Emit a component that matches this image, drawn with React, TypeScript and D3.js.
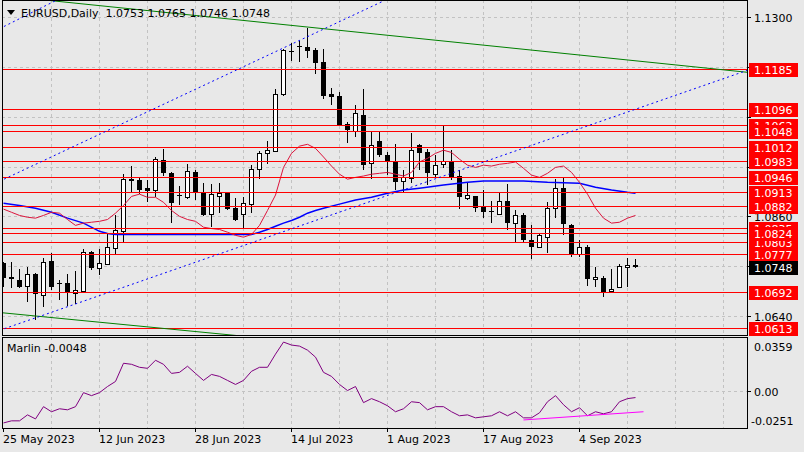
import * as d3 from "d3";
import { useEffect } from "react";

const width = 804;
const height = 452;

// daily bars, 25 May 2023 .. 13 Sep 2023 (weekdays)
const opens = [
  1.0756, 1.0723, 1.0719, 1.0706, 1.0732, 1.0686, 1.0761, 1.0712, 1.0712, 1.0690,
  1.0695, 1.0781, 1.0745, 1.0754, 1.0789, 1.0827, 1.0942, 1.0940, 1.0922, 1.0916,
  1.0984, 1.0955, 1.0907, 1.0902, 1.0957, 1.0913, 1.0864, 1.0904, 1.0911, 1.0878,
  1.0864, 1.0887, 1.0964, 1.0999, 1.1004, 1.1128, 1.1225, 1.1236, 1.1234, 1.1227,
  1.1200, 1.1130, 1.1125, 1.1063, 1.1048, 1.1083, 1.0977, 1.1026, 1.0995, 1.0980,
  1.0938, 1.0944, 1.1017, 1.1001, 1.0953, 1.0975, 1.0980, 1.0949, 1.0900, 1.0904,
  1.0880, 1.0871, 1.0864, 1.0893, 1.0845, 1.0864, 1.0807, 1.0792, 1.0814, 1.0878,
  1.0922, 1.0840, 1.0776, 1.0792, 1.0721, 1.0725, 1.0695, 1.0703, 1.0748, 1.0753,
];
const highs = [
  1.0759, 1.0759, 1.0743, 1.0748, 1.0734, 1.0767, 1.0779, 1.0719, 1.0732, 1.0739,
  1.0789, 1.0783, 1.0789, 1.0820, 1.0862, 1.0953, 1.0971, 1.0946, 1.0940, 1.0991,
  1.1008, 1.0957, 1.0927, 1.0975, 1.0962, 1.0933, 1.0931, 1.0933, 1.0913, 1.0900,
  1.0902, 1.0973, 1.1004, 1.1026, 1.1141, 1.1229, 1.1243, 1.1247, 1.1276, 1.1232,
  1.1229, 1.1143, 1.1134, 1.1068, 1.1106, 1.1141, 1.1046, 1.1046, 1.1001, 1.1019,
  1.0962, 1.1043, 1.1019, 1.1008, 1.0995, 1.1061, 1.1006, 1.0962, 1.0933, 1.0906,
  1.0918, 1.0893, 1.0913, 1.0931, 1.0873, 1.0867, 1.0840, 1.0820, 1.0891, 1.0942,
  1.0944, 1.0842, 1.0807, 1.0796, 1.0748, 1.0728, 1.0743, 1.0754, 1.0767, 1.0765,
];
const lows = [
  1.0703, 1.0701, 1.0701, 1.0670, 1.0632, 1.0659, 1.0697, 1.0675, 1.0663, 1.0666,
  1.0693, 1.0741, 1.0730, 1.0752, 1.0774, 1.0803, 1.0913, 1.0909, 1.0891, 1.0902,
  1.0949, 1.0845, 1.0884, 1.0899, 1.0896, 1.0860, 1.0836, 1.0867, 1.0874, 1.0849,
  1.0833, 1.0867, 1.0942, 1.0975, 1.1001, 1.1125, 1.1203, 1.1200, 1.1209, 1.1174,
  1.1119, 1.1106, 1.1059, 1.1021, 1.1035, 1.0962, 1.0942, 1.0991, 1.0951, 1.0918,
  1.0911, 1.0933, 1.0962, 1.0929, 1.0944, 1.0966, 1.0940, 1.0876, 1.0896, 1.0869,
  1.0856, 1.0845, 1.0862, 1.0829, 1.0803, 1.0803, 1.0765, 1.0790, 1.0779, 1.0856,
  1.0818, 1.0770, 1.0770, 1.0706, 1.0703, 1.0683, 1.0693, 1.0701, 1.0703, 1.0746,
];
const closes = [
  1.0723, 1.0724, 1.0703, 1.0732, 1.0688, 1.0759, 1.0703, 1.0711, 1.0690, 1.0697,
  1.0781, 1.0745, 1.0756, 1.0792, 1.0829, 1.0942, 1.0938, 1.0918, 1.0916, 1.0986,
  1.0955, 1.0889, 1.0904, 1.0960, 1.0911, 1.0862, 1.0909, 1.0911, 1.0876, 1.0851,
  1.0889, 1.0964, 1.0999, 1.1006, 1.1130, 1.1225, 1.1223, 1.1234, 1.1225, 1.1198,
  1.1125, 1.1123, 1.1061, 1.1050, 1.1086, 1.0973, 1.1017, 1.0995, 1.0982, 1.0935,
  1.0946, 1.1006, 1.0999, 1.0955, 1.0973, 1.0980, 1.0944, 1.0902, 1.0907, 1.0878,
  1.0869, 1.0869, 1.0893, 1.0845, 1.0862, 1.0807, 1.0792, 1.0818, 1.0878, 1.0922,
  1.0842, 1.0774, 1.0792, 1.0721, 1.0725, 1.0692, 1.0699, 1.0750, 1.0752, 1.0748,
];

// short moving average (red), one value per bar
const fastMA = [
  1.0876, 1.0869, 1.0862, 1.0858, 1.0856, 1.0862, 1.0869, 1.0867, 1.0853, 1.0840,
  1.0845, 1.0847, 1.0849, 1.0853, 1.0867, 1.0884, 1.0904, 1.0909, 1.0902, 1.0902,
  1.0891, 1.0873, 1.0860, 1.0853, 1.0849, 1.0836, 1.0833, 1.0831, 1.0825, 1.0818,
  1.0814, 1.0820, 1.0840, 1.0873, 1.0907, 1.0968, 1.0999, 1.1015, 1.1019, 1.1010,
  1.0991, 1.0971, 1.0953, 1.0942, 1.0946, 1.0949, 1.0953, 1.0955, 1.0957, 1.0953,
  1.0949, 1.0957, 1.0980, 1.0988, 1.0999, 1.1006, 1.1001, 1.0986, 1.0973, 1.0968,
  1.0973, 1.0971, 1.0975, 1.0977, 1.0980, 1.0966, 1.0951, 1.0946, 1.0955, 1.0968,
  1.0971, 1.0957, 1.0935, 1.0909, 1.0878, 1.0856, 1.0845, 1.0847, 1.0856, 1.0862,
];

// long moving average (blue), read at these bars
const slowIdx = [0, 2, 4, 6, 8, 10, 12, 13, 14, 31, 32, 33, 34, 35, 36, 37, 38, 39, 40, 42, 44, 46, 48, 50, 52, 55, 58, 60, 65, 68, 72, 74, 76, 78, 79];
const slowMA = [
  1.0889, 1.0884, 1.0878, 1.0869, 1.0856, 1.0845, 1.0827, 1.0822, 1.0820, 1.0820,
  1.0825, 1.0831, 1.0838, 1.0845, 1.0851, 1.0858, 1.0867, 1.0873, 1.0878, 1.0887,
  1.0896, 1.0902, 1.0911, 1.0918, 1.0922, 1.0929, 1.0935, 1.0938, 1.0938, 1.0935,
  1.0933, 1.0924, 1.0918, 1.0913, 1.0911,
];

// Marlin oscillator
const marlin = [
  -0.0217, -0.0203, -0.0203, -0.0163, -0.0190, -0.0108, -0.0142, -0.0122, -0.0129, -0.0108,
  -0.0014, -0.0034, -0.0014, 0.0027, 0.0061, 0.0183, 0.0176, 0.0156, 0.0149, 0.0203,
  0.0176, 0.0115, 0.0122, 0.0163, 0.0115, 0.0068, 0.0108, 0.0095, 0.0068, 0.0041,
  0.0068, 0.0129, 0.0156, 0.0156, 0.0244, 0.0325, 0.0305, 0.0298, 0.0271, 0.0224,
  0.0122, 0.0095, 0.0041, 0.0000, 0.0027, -0.0081, -0.0054, -0.0075, -0.0102, -0.0142,
  -0.0122, -0.0075, -0.0081, -0.0129, -0.0108, -0.0108, -0.0142, -0.0169, -0.0163, -0.0183,
  -0.0176, -0.0169, -0.0142, -0.0169, -0.0142, -0.0183, -0.0183, -0.0149, -0.0075, -0.0034,
  -0.0095, -0.0142, -0.0115, -0.0169, -0.0142, -0.0156, -0.0142, -0.0075, -0.0054, -0.0047,
];
const marlinTrend = [
  { i: 65, v: -0.0197 },
  { i: 80, v: -0.0142 },
];

const levels = [1.1185, 1.1096, 1.1062, 1.1048, 1.1012, 1.0983, 1.0946, 1.0913, 1.0882, 1.0835, 1.0803, 1.0824, 1.0777, 1.0692, 1.0613];
const priceTicks = [1.13, 1.119, 1.108, 1.097, 1.086, 1.075, 1.064];
const lastPrice = 1.0748;

const dateLabels = ["25 May 2023", "12 Jun 2023", "28 Jun 2023", "14 Jul 2023", "1 Aug 2023", "17 Aug 2023", "4 Sep 2023"];
const dateIdx = [0, 12, 24, 36, 48, 60, 72];

// trend lines: two anchors each (bar index, price)
const trendLines = [
  { a: [0, 1.1347], b: [93, 1.1178], color: "#008000", dash: "" },
  { a: [0, 1.0647], b: [28, 1.0599], color: "#008000", dash: "" },
  { a: [0, 1.0941], b: [48, 1.1339], color: "#0000ff", dash: "2,3" },
  { a: [0, 1.1278], b: [6, 1.1331], color: "#0000ff", dash: "2,3" },
  { a: [0, 1.0611], b: [93, 1.1182], color: "#0000ff", dash: "2,3" },
];

const font = "DejaVu Sans";

export default function App() {
  useEffect(() => {
    document.body.style.margin = "0";
  }, []);

  const left = 2;
  const right = 747;
  const mainTop = 0;
  const mainBottom = 335;
  const subTop = 337;
  const subBottom = 428;

  const x = d3.scaleLinear([0, 90], [3, 723]);
  const y = d3.scaleLinear([1.05981, 1.13331], [mainBottom, 2]);
  const ym = d3.scaleLinear([-0.0251, 0.0359], [subBottom, subTop]);

  const gridIdx = d3.range(6, 91, 6);

  // grid labels that would sit under a level label are not drawn (as the terminal does)
  const labelled = [...levels, lastPrice];
  const freeTicks = priceTicks.filter(p => labelled.every(q => Math.abs(y(p) - y(q)) > 8));

  const fastLine = d3.line<number>((d, i) => x(i) + 0.5, d => y(d));
  const slowLine = d3.line<number>((d, i) => x(slowIdx[i]) + 0.5, d => y(d));
  const marlinLine = d3.line<number>((d, i) => x(i) + 0.5, d => ym(d));

  return (
    <svg width={width} height={height} style={{ display: "block", position: "absolute", left: 0, top: 0 }} fontFamily={font} fontSize={11}>
      <defs>
        <clipPath id="main">
          <rect x={left} y={mainTop} width={right - left} height={mainBottom - mainTop} />
        </clipPath>
        <clipPath id="sub">
          <rect x={left} y={subTop} width={right - left} height={subBottom - subTop} />
        </clipPath>
      </defs>
      <rect width={width} height={height} fill="#e8e8e8" />

      {/* grid */}
      <g stroke="#c2c2c2" strokeDasharray="3,3" shapeRendering="crispEdges">
        {priceTicks.map(p => (
          <line key={p} x1={left} x2={right} y1={Math.round(y(p)) + 0.5} y2={Math.round(y(p)) + 0.5} />
        ))}
        {gridIdx.map(i => (
          <g key={i}>
            <line x1={x(i) + 0.5} x2={x(i) + 0.5} y1={mainTop} y2={mainBottom} />
            <line x1={x(i) + 0.5} x2={x(i) + 0.5} y1={subTop} y2={subBottom} />
          </g>
        ))}
        <line x1={left} x2={right} y1={Math.round(ym(0)) + 0.5} y2={Math.round(ym(0)) + 0.5} />
      </g>

      <g clipPath="url(#main)">
        {/* candles */}
        {opens.map((o, i) => {
          const c = closes[i];
          const cx = x(i);
          const top = y(Math.max(o, c));
          const bot = y(Math.min(o, c));
          const bull = c >= o;
          return (
            <g key={i} shapeRendering="crispEdges">
              <line x1={cx + 0.5} x2={cx + 0.5} y1={y(highs[i])} y2={y(lows[i])} stroke="#000" />
              {bull ? (
                <rect x={cx - 1.5} y={top} width={4} height={Math.max(bot - top, 1)} fill="#fff" stroke="#000" />
              ) : (
                <rect x={cx - 2} y={top} width={5} height={Math.max(bot - top, 1)} fill="#000" />
              )}
            </g>
          );
        })}

        <path d={slowLine(slowMA) ?? ""} fill="none" stroke="#0000ff" strokeWidth={1.5} />
        <path d={fastLine(fastMA) ?? ""} fill="none" stroke="#dc143c" strokeWidth={1} />

        {/* horizontal levels */}
        <g stroke="#ff0000" shapeRendering="crispEdges">
          {levels.map(p => (
            <line key={p} x1={left} x2={right} y1={Math.round(y(p)) + 0.5} y2={Math.round(y(p)) + 0.5} />
          ))}
        </g>

        {trendLines.map((t, k) => {
          const slope = (t.b[1] - t.a[1]) / (t.b[0] - t.a[0]);
          const i0 = -1;
          const i1 = 95;
          return (
            <line
              key={k}
              x1={x(i0)}
              y1={y(t.a[1] + slope * (i0 - t.a[0]))}
              x2={x(i1)}
              y2={y(t.a[1] + slope * (i1 - t.a[0]))}
              stroke={t.color}
              strokeWidth={1}
              strokeDasharray={t.dash || undefined}
            />
          );
        })}
      </g>

      {/* indicator */}
      <g clipPath="url(#sub)">
        <path d={marlinLine(marlin) ?? ""} fill="none" stroke="#800080" strokeWidth={1} />
        <line
          x1={x(marlinTrend[0].i) + 0.5}
          y1={ym(marlinTrend[0].v)}
          x2={x(marlinTrend[1].i) + 0.5}
          y2={ym(marlinTrend[1].v)}
          stroke="#ff00ff"
          strokeWidth={1}
        />
      </g>

      {/* frames */}
      <g fill="none" stroke="#000" shapeRendering="crispEdges">
        <rect x={left + 0.5} y={mainTop + 0.5} width={right - left} height={mainBottom - mainTop} />
        <rect x={left + 0.5} y={subTop + 0.5} width={right - left} height={subBottom - subTop} />
      </g>

      {/* header */}
      <path d="M7,10 L15,10 L11,15 Z" fill="#000" />
      <text x={21} y={17} style={{ whiteSpace: "pre" }}>EURUSD,Daily  1.0753 1.0765 1.0746 1.0748</text>
      <text x={7} y={352}>Marlin -0.0048</text>

      {/* price axis */}
      <g shapeRendering="crispEdges">
        {priceTicks.map(p => (
          <line key={p} x1={right + 1} x2={right + 4} y1={Math.round(y(p)) + 0.5} y2={Math.round(y(p)) + 0.5} stroke="#000" />
        ))}
      </g>
      {freeTicks.map(p => (
        <text key={p} x={754} y={y(p) + 5} fill="#000">{p.toFixed(4)}</text>
      ))}
      {levels.map(p => (
        <g key={p}>
          <rect x={749} y={Math.round(y(p)) - 6} width={49} height={14} fill="#ff0000" />
          <text x={754} y={y(p) + 5} fill="#fff">{p.toFixed(4)}</text>
        </g>
      ))}
      <rect x={749} y={Math.round(y(lastPrice)) - 6} width={49} height={14} fill="#000" />
      <text x={754} y={y(lastPrice) + 5} fill="#fff">{lastPrice.toFixed(4)}</text>

      {/* indicator axis */}
      <text x={754} y={ym(0.0359) + 14}>0.0359</text>
      <text x={754} y={ym(0) + 5}>0.00</text>
      <text x={751} y={ym(-0.0251) - 3}>-0.0251</text>
      <line x1={right + 1} x2={right + 4} y1={Math.round(ym(0)) + 0.5} y2={Math.round(ym(0)) + 0.5} stroke="#000" />

      {/* date axis */}
      {dateIdx.map((i, k) => (
        <g key={i}>
          <line x1={x(i) + 0.5} x2={x(i) + 0.5} y1={subBottom + 1} y2={subBottom + 4} stroke="#000" />
          <text x={x(i)} y={443}>{dateLabels[k]}</text>
        </g>
      ))}
    </svg>
  );
}
